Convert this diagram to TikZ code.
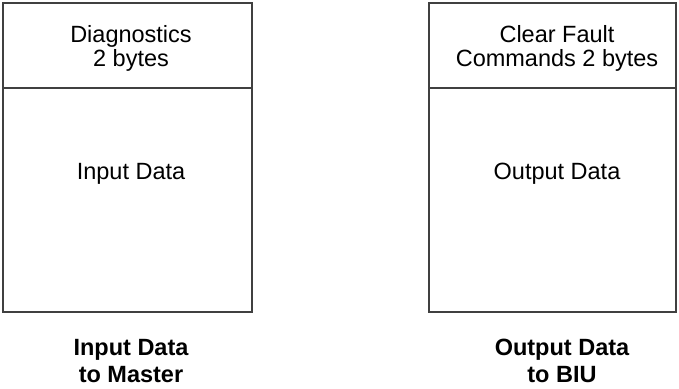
\documentclass[tikz,border=0pt]{standalone}
\usepackage{fontspec}
\setmainfont{Liberation Sans}
\begin{document}
\begin{tikzpicture}[x=1pt,y=-1pt,
  boxline/.style={draw=black!75,line width=1.4pt},
  lbl/.style={inner sep=0pt,align=center,font=\fontsize{23.5}{24.5}\selectfont},
  caption/.style={inner sep=0pt,align=center,font=\fontsize{23.5}{27.5}\selectfont\bfseries}]
\useasboundingbox (0,0) rectangle (679,388);
% left box
\draw[boxline] (3,3) rectangle (252,312);
\draw[boxline] (3,88) -- (252,88);
% right box
\draw[boxline] (429,3) rectangle (676,312);
\draw[boxline] (429,88) -- (676,88);
\node[lbl] (diag) at (131,48.3) {Diagnostics\\2 bytes};
\node[lbl] (inp) at (131,174) {Input Data};
\node[lbl] (clr) at (557,48.3) {Clear Fault\\Commands 2 bytes};
\node[lbl] (outp) at (557,174) {Output Data};
\node[caption] (capl) at (131,361) {Input Data\\to Master};
\node[caption] (capr) at (562,361) {Output Data\\to BIU};
\end{tikzpicture}
\end{document}
